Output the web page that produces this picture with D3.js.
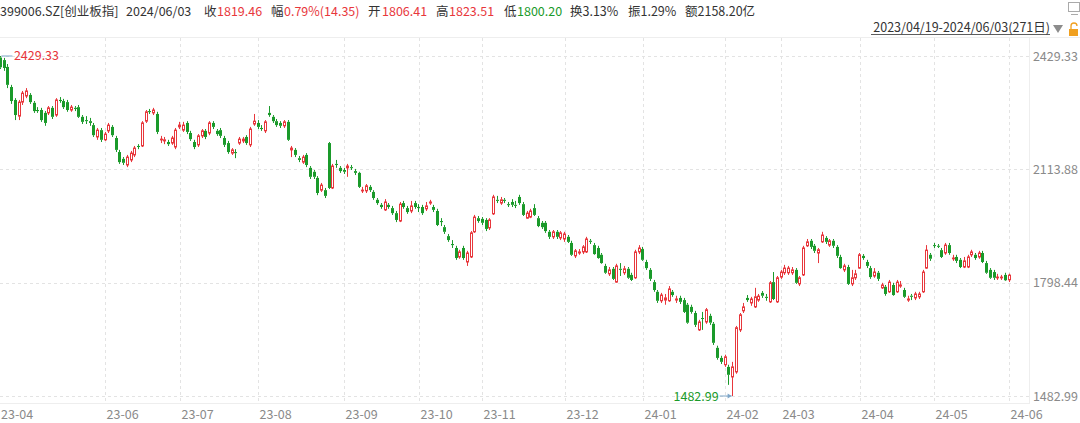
<!DOCTYPE html>
<html><head><meta charset="utf-8">
<script src="https://cdn.jsdelivr.net/npm/d3@7"></script>
<style>
html,body{margin:0;padding:0;background:#fff;}
svg{display:block;font-family:"Noto Sans CJK SC","Noto Sans",sans-serif;}
</style></head><body>
<svg id="c" width="1080" height="423"></svg>
<script>
// ---- data ----
const openV = [2425,2418,2399,2343,2307,2262,2301,2318,2321,2299,
2279,2279,2271,2271,2285,2265,2307,2304,2301,2279,
2285,2287,2260,2251,2248,2237,2204,2223,2196,2221,
2232,2201,2162,2143,2126,2140,2154,2179,2179,2248,
2276,2271,2268,2196,2193,2190,2187,2176,2232,2223,
2243,2215,2190,2182,2207,2221,2215,2243,2221,2223,
2201,2187,2159,2162,2187,2193,2204,2182,2240,2243,
2229,2221,2271,2260,2248,2243,2235,2246,2168,2168,
2145,2134,2154,2118,2107,2090,2056,2056,2187,2062,
2129,2118,2112,2118,2120,2109,2104,2054,2054,2065,
2051,2029,2015,2001,2015,2006,1992,1970,2020,2006,
1998,2020,2009,2009,2004,2020,2009,1998,1970,1953,
1928,1906,1895,1870,1895,1856,1870,1940,1978,1976,
1973,1951,1990,2029,2020,2029,2017,2023,2015,2037,
2017,1978,1981,2006,1978,1965,1965,1940,1926,1940,
1923,1920,1926,1909,1873,1881,1884,1884,1915,1903,
1895,1876,1845,1823,1837,1800,1837,1826,1837,1820,
1812,1884,1892,1856,1834,1800,1773,1748,1750,1748,
1773,1750,1756,1750,1737,1731,1714,1667,1700,1689,
1706,1684,1617,1589,1570,1564,1536,1550,1667,1720,
1756,1742,1731,1750,1770,1759,1745,1800,1745,1814,
1826,1826,1826,1834,1795,1820,1901,1915,1901,1881,
1912,1923,1903,1915,1898,1870,1834,1842,1795,1812,
1839,1873,1856,1839,1817,1826,1784,1787,1773,1792,
1773,1789,1778,1750,1762,1756,1759,1773,1839,1876,
1903,1901,1889,1881,1903,1865,1870,1862,1842,1842,
1876,1876,1870,1881,1853,1834,1828,1812,1812,1820,
1806.41];
const closeV = [2398,2396,2349,2304,2265,2301,2326,2332,2301,2276,
2276,2251,2243,2285,2260,2307,2304,2287,2279,2287,
2282,2260,2246,2248,2243,2209,2223,2196,2212,2237,
2209,2168,2134,2132,2148,2159,2173,2176,2243,2274,
2274,2279,2218,2198,2196,2184,2201,2223,2237,2237,
2218,2198,2176,2207,2221,2204,2243,2232,2212,2207,
2182,2162,2168,2159,2198,2198,2187,2226,2248,2232,
2226,2246,2265,2248,2237,2235,2246,2196,2173,2154,
2140,2148,2126,2093,2093,2048,2070,2040,2062,2123,
2126,2109,2107,2123,2118,2104,2065,2056,2068,2056,
2034,2020,2009,2023,2009,1992,1973,2017,2009,1995,
2012,2009,2006,1992,2012,2023,2001,1959,1967,1940,
1917,1903,1867,1884,1867,1881,1937,1981,1970,1965,
1948,1973,2037,2026,2029,2026,2015,2015,2013,2020,
1987,1992,1998,1987,1956,1953,1942,1926,1940,1926,
1937,1934,1912,1876,1887,1884,1898,1920,1912,1878,
1867,1853,1826,1834,1809,1845,1834,1837,1812,1806,
1884,1895,1862,1839,1809,1778,1748,1764,1756,1781,
1764,1753,1745,1717,1687,1717,1681,1689,1698,1723,
1687,1631,1589,1578,1592,1542,1564,1673,1709,1731,
1750,1753,1759,1761,1762,1756,1798,1753,1812,1828,
1839,1839,1834,1798,1812,1895,1912,1898,1887,1890,
1931,1912,1915,1901,1873,1839,1845,1795,1812,1823,
1876,1867,1845,1814,1828,1809,1792,1767,1800,1764,
1800,1792,1759,1753,1759,1767,1767,1828,1889,1865,
1901,1899,1870,1903,1881,1867,1859,1842,1859,1870,
1884,1867,1881,1856,1826,1812,1812,1814,1814,1805.11,
1819.46];
const highV = [2429.33,2424,2407,2349,2312,2307,2332,2340,2326,2304,
2287,2285,2276,2290,2290,2312,2315,2310,2307,2293,
2290,2293,2265,2262,2257,2243,2229,2229,2218,2243,
2237,2207,2168,2148,2154,2165,2179,2184,2248,2279,
2282,2285,2274,2207,2204,2196,2207,2229,2246,2246,
2248,2221,2196,2212,2226,2226,2248,2248,2226,2229,
2207,2193,2173,2170,2204,2204,2209,2232,2268,2251,
2237,2251,2290,2265,2254,2248,2251,2251,2179,2173,
2151,2154,2159,2123,2112,2095,2076,2062,2190,2129,
2140,2123,2118,2129,2126,2115,2107,2065,2073,2070,
2056,2034,2020,2031,2020,2012,1998,2023,2026,2012,
2026,2026,2017,2015,2023,2029,2015,2004,1978,1959,
1934,1917,1901,1890,1901,1887,1942,1987,1984,1981,
1978,1978,2043,2040,2037,2034,2023,2031,2026,2043,
2023,1998,2004,2017,1984,1970,1970,1945,1945,1945,
1942,1940,1931,1915,1892,1892,1903,1926,1920,1909,
1901,1881,1851,1842,1842,1851,1853,1845,1842,1826,
1890,1903,1898,1862,1839,1806,1778,1770,1767,1789,
1778,1762,1762,1756,1742,1737,1720,1695,1717,1728,
1712,1689,1623,1595,1598,1570,1578,1678,1714,1742,
1764,1759,1784,1767,1775,1767,1803,1828,1817,1834,
1848,1845,1842,1839,1817,1901,1920,1920,1906,1895,
1940,1928,1920,1920,1903,1876,1851,1848,1834,1834,
1881,1878,1862,1845,1839,1831,1798,1792,1806,1798,
1806,1803,1784,1762,1767,1773,1773,1834,1903,1881,
1909,1906,1895,1909,1909,1876,1876,1867,1870,1876,
1890,1881,1887,1887,1859,1839,1834,1823,1820,1826,
1823.51];
const lowV = [2393,2388,2340,2296,2251,2251,2293,2312,2296,2271,
2271,2246,2235,2265,2254,2260,2299,2282,2274,2274,
2276,2257,2240,2240,2235,2204,2196,2190,2193,2215,
2204,2162,2129,2126,2120,2134,2148,2170,2176,2243,
2268,2265,2212,2187,2184,2179,2182,2170,2226,2218,
2212,2193,2170,2176,2201,2198,2209,2226,2207,2201,
2176,2157,2154,2145,2182,2187,2182,2176,2235,2226,
2221,2215,2260,2243,2232,2229,2229,2193,2148,2148,
2134,2129,2120,2087,2087,2042,2051,2034,2059,2059,
2118,2104,2101,2093,2112,2098,2062,2048,2048,2051,
2029,2015,2004,1998,2004,1987,1967,1967,2004,1990,
1992,2004,1995,1987,1998,2015,1995,1956,1956,1934,
1912,1895,1862,1865,1862,1845,1867,1937,1965,1959,
1942,1945,1987,2020,2015,2020,2009,2009,2006,2015,
1984,1976,1978,1984,1953,1948,1937,1920,1920,1920,
1917,1912,1909,1873,1867,1876,1878,1881,1906,1876,
1865,1851,1823,1817,1806,1798,1817,1820,1809,1803,
1809,1878,1859,1834,1803,1773,1742,1742,1737,1745,
1759,1742,1739,1714,1684,1712,1675,1664,1667,1684,
1681,1625,1584,1572,1564,1514,1482.99,1545,1661,1714,
1745,1734,1728,1745,1756,1748,1742,1750,1742,1809,
1820,1820,1820,1795,1789,1817,1898,1892,1881,1853,
1909,1906,1898,1895,1867,1837,1828,1792,1789,1806,
1837,1862,1839,1809,1812,1803,1781,1762,1770,1762,
1770,1784,1756,1745,1750,1750,1753,1770,1837,1859,
1895,1895,1867,1876,1876,1859,1853,1839,1839,1839,
1870,1862,1865,1853,1823,1809,1806,1806,1806,1803,
1800.20];
const monthLabels = ["23-04","23-06","23-07","23-08","23-09","23-10","23-11","23-12","24-01","24-02","24-03","24-04","24-05","24-06"];
const monthIndex  = [0,28,48,69,92,112,129,151,172,194,209,230,250,270];
const yTickValues = [2429.33, 2113.88, 1798.44, 1482.99];
const headerParts = [
  ["399006.SZ[创业板指]","n"],["2024/06/03","n"],["收","n"],["1819.46","r"],["幅","n"],["0.79%(14.35)","r"],
  ["开","n"],["1806.41","r"],["高","n"],["1823.51","r"],["低","n"],["1800.20","g"],
  ["换3.13%","n"],["振1.29%","n"],["额2158.20亿","n"]];
const headerX = [0,126,204,217,271,284,368,382,436,449,504,517,570,628,685];
const rangeText = "2023/04/19-2024/06/03(271日)";

// ---- drawing ----
const RED="#e8373c", GREEN="#1a9a2a", TXT="#333", AX="#8a8a8a", GRID="#e3e3e3";
const svg = d3.select("#c");
const n = closeV.length;
const x = d3.scaleLinear().domain([0, n-1]).range([0.4, 1009.1]);
const y = d3.scaleLinear().domain([1482.99, 2429.33]).range([396, 56]);

// header
const hdr = svg.append("g").attr("font-size", 12.5);
headerParts.forEach((p,i)=>{
  hdr.append("text").attr("x", headerX[i]).attr("y", 16)
    .attr("fill", p[1]==="r"?RED:p[1]==="g"?GREEN:TXT).text(p[0]);
});
svg.append("text").attr("x",1050).attr("y",32).attr("text-anchor","end")
  .attr("font-size",12.5).attr("fill",TXT).text(rangeText);
svg.append("line").attr("x1",871).attr("x2",1050).attr("y1",34.5).attr("y2",34.5).attr("stroke",TXT).attr("stroke-width",0.8);
svg.append("path").attr("d","M1053,25 L1063,25 L1058,33 Z").attr("fill","#8c8c8c");
// lock icon
svg.append("rect").attr("x",1069).attr("y",29).attr("width",9).attr("height",7).attr("fill","#f0a020");
svg.append("path").attr("d","M1071,29 v-3 a3,3 0 0 1 6,0").attr("fill","none").attr("stroke","#f0a020").attr("stroke-width",1.3);
// monitor icon
svg.append("rect").attr("x",1068.5).attr("y",2.5).attr("width",11).attr("height",9).attr("fill","none").attr("stroke","#aaa");
svg.append("line").attr("x1",1071).attr("x2",1078).attr("y1",14.5).attr("y2",14.5).attr("stroke","#aaa");

// grid
const g = svg.append("g");
g.append("line").attr("x1",0).attr("x2",1080).attr("y1",37.5).attr("y2",37.5).attr("stroke","#eeeeee");
g.append("line").attr("x1",0).attr("x2",1030).attr("y1",403.5).attr("y2",403.5).attr("stroke","#eeeeee");
g.append("line").attr("x1",1029.5).attr("x2",1029.5).attr("y1",38).attr("y2",403).attr("stroke","#eeeeee");
g.selectAll(".hg").data(yTickValues).enter().append("line")
  .attr("x1",0).attr("x2",1030).attr("y1",d=>Math.round(y(d))+0.5).attr("y2",d=>Math.round(y(d))+0.5)
  .attr("stroke",GRID).attr("stroke-dasharray","3,3");
g.selectAll(".vg").data(monthIndex.slice(1)).enter().append("line")
  .attr("x1",d=>Math.round(x(d))+0.5).attr("x2",d=>Math.round(x(d))+0.5).attr("y1",38).attr("y2",403)
  .attr("stroke",GRID).attr("stroke-dasharray","3,3");

// axes labels
svg.selectAll(".yl").data(yTickValues).enter().append("text")
  .attr("x",1078).attr("y",d=>y(d)+4.5).attr("text-anchor","end").attr("font-size",12.5)
  .attr("fill",AX).text(d=>d.toFixed(2));
svg.selectAll(".xl").data(monthLabels).enter().append("text")
  .attr("x",(d,i)=> i===0 ? 1 : Math.round(x(monthIndex[i]))+1.5).attr("y",419)
  .attr("font-size",12.5).attr("fill",AX).text(d=>d);

// candles
const cg = svg.append("g");
d3.range(n).forEach(i=>{
  const o=openV[i], c=closeV[i], h=highV[i], l=lowV[i];
  const up = c>=o;
  const col = up?RED:GREEN;
  const cx = Math.floor(x(i))+0.5;
  const yt = y(Math.max(o,c)), yb = y(Math.min(o,c));
  cg.append("line").attr("x1",cx).attr("x2",cx).attr("y1",y(h)).attr("y2",yt).attr("stroke",col);
  cg.append("line").attr("x1",cx).attr("x2",cx).attr("y1",yb).attr("y2",y(l)).attr("stroke",col);
  if(up){
    cg.append("rect").attr("x",cx-1).attr("y",yt).attr("width",2).attr("height",Math.max(0.8,yb-yt))
      .attr("fill","#fff").attr("stroke",col).attr("stroke-width",1);
  } else {
    cg.append("rect").attr("x",cx-1.5).attr("y",yt).attr("width",3).attr("height",Math.max(1,yb-yt)).attr("fill",col);
  }
});

// max / min annotations
const iMax = d3.maxIndex(highV), iMin = d3.minIndex(lowV);
const ym = y(highV[iMax]);
svg.append("line").attr("x1",x(iMax)+1).attr("x2",x(iMax)+12).attr("y1",ym).attr("y2",ym).attr("stroke","#7ea6c8");
svg.append("text").attr("x",x(iMax)+13.5).attr("y",ym+4).attr("font-size",12.5).attr("fill",RED).text(highV[iMax].toFixed(2));
const yn = y(lowV[iMin]);
svg.append("line").attr("x1",x(iMin)-13).attr("x2",x(iMin)-1).attr("y1",yn).attr("y2",yn).attr("stroke","#7ea6c8");
svg.append("path").attr("d",`M${x(iMin)-1},${yn} l-4,-2.5 l0,5 Z`).attr("fill","#7ea6c8");
svg.append("text").attr("x",x(iMin)-14).attr("y",yn+4.5).attr("text-anchor","end").attr("font-size",12.5).attr("fill",GREEN).text(lowV[iMin].toFixed(2));
</script>
</body></html>
